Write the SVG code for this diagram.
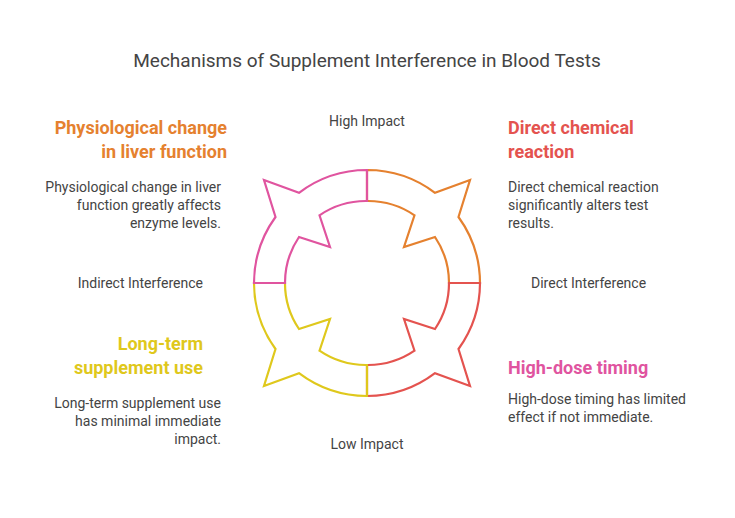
<svg xmlns="http://www.w3.org/2000/svg" width="735" height="518" viewBox="0 0 735 518">
<style>
text{font-family:Roboto,"Liberation Sans",sans-serif}
.t{font-size:18px;font-weight:bold}
.b{font-size:14px;fill:#444}
.a{font-size:14px;fill:#444}
.q{fill:none;stroke-width:2.2;stroke-linejoin:miter}
</style>
<rect width="735" height="518" fill="#fff"/>
<text x="367" y="67" text-anchor="middle" style="font-size:19px;fill:#444">Mechanisms of Supplement Interference in Blood Tests</text>
<g id="shape">
<path class="q" stroke="#e5812f" d="M367,170 A113,113 0 0 1 435,192.8 L470,180 L458.5,217 A113,113 0 0 1 480,283 L449,283 A82,82 0 0 0 435,237 L404,247 L414.5,215.3 A82,82 0 0 0 367,201 Z"/>
<path class="q" stroke="#e4534f" d="M480,283 A113,113 0 0 1 458.5,349 L470,386 L435,373.2 A113,113 0 0 1 367,396 L367,365 A82,82 0 0 0 414.5,350.7 L404,319 L435,329 A82,82 0 0 0 449,283 Z"/>
<path class="q" stroke="#dfc81c" d="M367,396 A113,113 0 0 1 299,373.2 L264,386 L275.5,349 A113,113 0 0 1 254,283 L285,283 A82,82 0 0 0 299,329 L330,319 L319.5,350.7 A82,82 0 0 0 367,365 Z"/>
<path class="q" stroke="#e0549f" d="M254,283 A113,113 0 0 1 275.5,217 L264,180 L299,192.8 A113,113 0 0 1 367,170 L367,201 A82,82 0 0 0 319.5,215.3 L330,247 L299,237 A82,82 0 0 0 285,283 Z"/>
</g>
<g id="axes">
<text class="a" x="367" y="126" text-anchor="middle">High Impact</text>
<text class="a" x="367" y="449" text-anchor="middle">Low Impact</text>
<text class="a" x="203" y="288" text-anchor="end">Indirect Interference</text>
<text class="a" x="531" y="288">Direct Interference</text>
</g>
<g id="n1">
<text class="t" fill="#e5812f" text-anchor="end"><tspan x="227" y="134">Physiological change</tspan><tspan x="227" y="158">in liver function</tspan></text>
<text class="b" text-anchor="end"><tspan x="221" y="192">Physiological change in liver</tspan><tspan x="221" y="210">function greatly affects</tspan><tspan x="221" y="228">enzyme levels.</tspan></text>
</g>
<g id="n2">
<text class="t" fill="#e4534f"><tspan x="508" y="134">Direct chemical</tspan><tspan x="508" y="158">reaction</tspan></text>
<text class="b"><tspan x="508" y="192">Direct chemical reaction</tspan><tspan x="508" y="210">significantly alters test</tspan><tspan x="508" y="228">results.</tspan></text>
</g>
<g id="n3">
<text class="t" fill="#dfc81c" text-anchor="end"><tspan x="203" y="350">Long-term</tspan><tspan x="203" y="374">supplement use</tspan></text>
<text class="b" text-anchor="end"><tspan x="221" y="408">Long-term supplement use</tspan><tspan x="221" y="426">has minimal immediate</tspan><tspan x="221" y="444">impact.</tspan></text>
</g>
<g id="n4">
<text class="t" fill="#e0549f"><tspan x="508" y="374">High-dose timing</tspan></text>
<text class="b"><tspan x="508" y="404">High-dose timing has limited</tspan><tspan x="508" y="422">effect if not immediate.</tspan></text>
</g>
</svg>
